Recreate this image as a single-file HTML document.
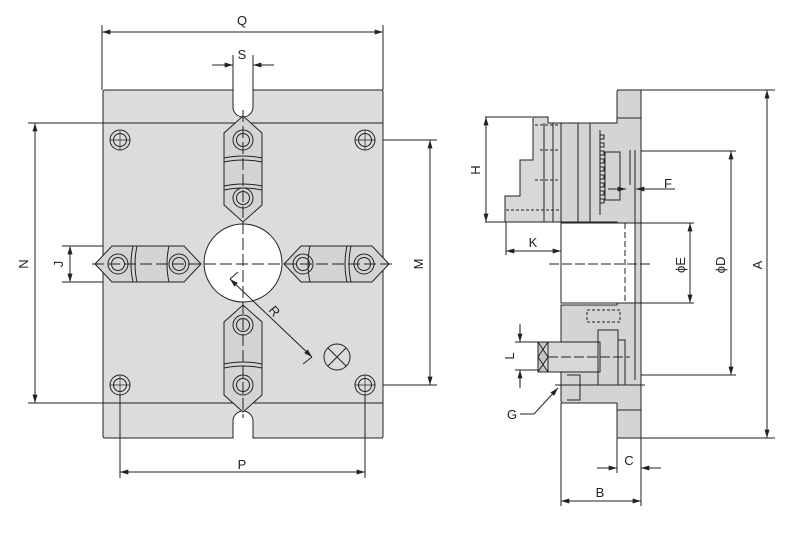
<!DOCTYPE html>
<html><head><meta charset="utf-8"><style>
html,body{margin:0;padding:0;background:#fff;}
svg{display:block;}
text{font-family:"Liberation Sans",sans-serif;font-size:13px;fill:#222;}
</style></head><body>
<svg width="803" height="545" viewBox="0 0 803 545" xmlns="http://www.w3.org/2000/svg">
<defs>
<marker id="a" viewBox="0 0 10 6" refX="10" refY="3" markerWidth="9" markerHeight="5" orient="auto-start-reverse" markerUnits="userSpaceOnUse"><path d="M0,0 L10,3 L0,6 z" fill="#222"/></marker>
</defs>
<g stroke="#222" stroke-width="1" fill="none">
<!-- LEFT PLATE -->
<path d="M105,90 H233 V107 A10,10 0 0 0 253,107 V90 H381 Q383,90 383,92 V436 Q383,438 381,438 H253 V421 A10,10 0 0 0 233,421 V438 H105 Q103,438 103,436 V92 Q103,90 105,90 Z" fill="#dcdcdc"/>
<line x1="103" y1="123" x2="383" y2="123"/>
<line x1="103" y1="403" x2="383" y2="403"/>
<circle cx="243" cy="263" r="39" fill="#fff"/>
<!-- jaws -->
<path d="M243,116 L262,133 V205 L243,222 L224,205 V133 Z" fill="#d4d4d4"/>
<path d="M243,305 L262,322 V395 L243,412 L224,395 V322 Z" fill="#d4d4d4"/>
<path d="M95,264 L112,246 H184 L201,264 L184,282 H112 Z" fill="#d4d4d4"/>
<path d="M284,264 L301,246 H372 L389,264 L372,282 H301 Z" fill="#d4d4d4"/>
<path d="M224,158 Q243,154 262,158 M224,162 Q243,158 262,162 M224,186 Q243,182 262,186 M224,190 Q243,186 262,190"/>
<path d="M224,364 Q243,360 262,364 M224,368 Q243,364 262,368"/>
<path d="M133,246 Q129,264 133,282 M137,246 Q133,264 137,282 M169,246 Q165,264 169,282"/>
<path d="M310,246 Q306,264 310,282 M347,246 Q343,264 347,282 M351,246 Q347,264 351,282"/>
<!-- holes -->
<g>
<circle cx="120" cy="140" r="10"/><circle cx="120" cy="140" r="6.5"/>
<circle cx="365" cy="140" r="10"/><circle cx="365" cy="140" r="6.5"/>
<circle cx="120" cy="385" r="10"/><circle cx="120" cy="385" r="6.5"/>
<circle cx="365" cy="385" r="10"/><circle cx="365" cy="385" r="6.5"/>
<circle cx="243" cy="140" r="10"/><circle cx="243" cy="140" r="6.5"/>
<circle cx="243" cy="198" r="10"/><circle cx="243" cy="198" r="6.5"/>
<circle cx="243" cy="325" r="10"/><circle cx="243" cy="325" r="6.5"/>
<circle cx="243" cy="385" r="10"/><circle cx="243" cy="385" r="6.5"/>
<circle cx="118" cy="264" r="10"/><circle cx="118" cy="264" r="6.5"/>
<circle cx="179" cy="264" r="10"/><circle cx="179" cy="264" r="6.5"/>
<circle cx="303" cy="264" r="10"/><circle cx="303" cy="264" r="6.5"/>
<circle cx="364" cy="264" r="10"/><circle cx="364" cy="264" r="6.5"/>
</g>
<path d="M110,140 H130 M120,130 V150 M355,140 H375 M365,130 V150 M110,385 H130 M120,375 V395 M355,385 H375 M365,375 V395" stroke-width="0.7"/>
<line x1="243" y1="110" x2="243" y2="418" stroke-dasharray="12,4"/>
<line x1="92" y1="264" x2="394" y2="264" stroke-dasharray="12,4"/>
<circle cx="337" cy="357" r="13"/>
<path d="M328,348 L346,366 M346,348 L328,366"/>
<line x1="230" y1="279" x2="312" y2="357" marker-start="url(#a)" marker-end="url(#a)"/>
<line x1="312" y1="357" x2="303" y2="364"/>
<line x1="230" y1="279" x2="238" y2="272"/>
<!-- left dims -->
<line x1="102" y1="25" x2="102" y2="90"/><line x1="383" y1="25" x2="383" y2="90"/>
<line x1="102" y1="32" x2="383" y2="32" marker-start="url(#a)" marker-end="url(#a)"/>
<line x1="233" y1="55" x2="233" y2="92"/><line x1="253" y1="55" x2="253" y2="92"/>
<line x1="212" y1="65" x2="233" y2="65" marker-end="url(#a)"/>
<line x1="274" y1="65" x2="253" y2="65" marker-end="url(#a)"/>
<line x1="28" y1="123" x2="103" y2="123"/><line x1="28" y1="403" x2="103" y2="403"/>
<line x1="35" y1="123" x2="35" y2="403" marker-start="url(#a)" marker-end="url(#a)"/>
<line x1="62" y1="246" x2="103" y2="246"/><line x1="62" y1="282" x2="103" y2="282"/>
<line x1="70" y1="246" x2="70" y2="282" marker-start="url(#a)" marker-end="url(#a)"/>
<line x1="383" y1="140" x2="437" y2="140"/><line x1="383" y1="385" x2="437" y2="385"/>
<line x1="430" y1="140" x2="430" y2="385" marker-start="url(#a)" marker-end="url(#a)"/>
<line x1="120" y1="395" x2="120" y2="478"/><line x1="365" y1="395" x2="365" y2="478"/>
<line x1="120" y1="472" x2="365" y2="472" marker-start="url(#a)" marker-end="url(#a)"/>

<!-- RIGHT VIEW -->
<path d="M619,90 H641 V438 H617 V403 H563 Q561,403 561,401 V305 H617 V222 H561 V125 Q561,123 563,123 H617 V92 Q617,90 619,90 Z" fill="#d4d4d4"/>
<rect x="561" y="223" width="74" height="80" fill="#fff"/>
<line x1="635" y1="150" x2="635" y2="380"/><line x1="641" y1="90" x2="641" y2="438"/>
<path d="M617,118 H641 M617,410 H641"/>
<path d="M533,117 H548 V123 H561 V222 H505 V196 H520 V160 H533 Z" fill="#d8d8d8"/>
<path d="M544,123 V222 M553,123 V222 M578,123 V222 M590,123 V222 M600,130 V215" />
<path d="M600,135 h4 v4 h-4 v4 h4 v4 h-4 v4 h4 v4 h-4 v4 h4 v4 h-4 v4 h4 v4 h-4 v4 h4 v4 h-4 v4 h4 v4 h-4 v4 h4 v4 h-4 v4 h4 v4 h-4"/>
<path d="M605,152 H620 V200 H605 Z M630,150 V185"/>
<path d="M506,210 H560 M535,125 H560 M540,150 H560 M535,180 H560" stroke-dasharray="3,2"/>
<path d="M625,223 V303" stroke-dasharray="6,3"/>
<path d="M587,310 H620 V322 H587 Z" stroke-dasharray="3,2"/>
<path d="M538,342 H600 V372 H538 Z" fill="#d8d8d8"/>
<path d="M538,342 H548 V372 H538 Z M538,342 L548,357 L538,372 M548,342 L538,357 L548,372" fill="#222" fill-opacity="0.1"/>
<path d="M598,330 H618 V385 H598 Z M618,340 H625 V385 M567,375 H580 V400 H567"/>
<line x1="548" y1="357" x2="630" y2="357" stroke-dasharray="10,3"/>
<line x1="549" y1="264" x2="650" y2="264" stroke-dasharray="10,3"/>
<line x1="555" y1="385" x2="645" y2="385"/>
<!-- right dims -->
<line x1="641" y1="90" x2="775" y2="90"/><line x1="641" y1="438" x2="775" y2="438"/>
<line x1="767" y1="90" x2="767" y2="438" marker-start="url(#a)" marker-end="url(#a)"/>
<line x1="641" y1="151" x2="736" y2="151"/><line x1="641" y1="375" x2="736" y2="375"/>
<line x1="731" y1="151" x2="731" y2="375" marker-start="url(#a)" marker-end="url(#a)"/>
<line x1="635" y1="223" x2="694" y2="223"/><line x1="635" y1="303" x2="694" y2="303"/>
<line x1="690" y1="223" x2="690" y2="303" marker-start="url(#a)" marker-end="url(#a)"/>
<line x1="485" y1="117" x2="532" y2="117"/><line x1="485" y1="222" x2="505" y2="222"/>
<line x1="486" y1="117" x2="486" y2="222" marker-start="url(#a)" marker-end="url(#a)"/>
<line x1="506" y1="222" x2="506" y2="255"/>
<line x1="506" y1="251" x2="561" y2="251" marker-start="url(#a)" marker-end="url(#a)"/>
<line x1="608" y1="189" x2="626" y2="189" marker-end="url(#a)"/>
<line x1="675" y1="189" x2="636" y2="189" marker-end="url(#a)"/>
<line x1="515" y1="342" x2="538" y2="342"/><line x1="515" y1="370" x2="538" y2="370"/>
<line x1="520" y1="324" x2="520" y2="342" marker-end="url(#a)"/>
<line x1="520" y1="388" x2="520" y2="370" marker-end="url(#a)"/>
<path d="M520,414 H534 L558,388" marker-end="url(#a)"/>
<line x1="561" y1="403" x2="561" y2="506"/><line x1="617" y1="438" x2="617" y2="473"/><line x1="641" y1="438" x2="641" y2="506"/>
<line x1="597" y1="468" x2="617" y2="468" marker-end="url(#a)"/>
<line x1="661" y1="468" x2="641" y2="468" marker-end="url(#a)"/>
<line x1="561" y1="501" x2="641" y2="501" marker-start="url(#a)" marker-end="url(#a)"/>
</g>
<text x="242" y="25" text-anchor="middle">Q</text>
<text x="242" y="59" text-anchor="middle">S</text>
<text x="242" y="469" text-anchor="middle">P</text>
<text transform="translate(28,264) rotate(-90)" text-anchor="middle">N</text>
<text transform="translate(63,264) rotate(-90)" text-anchor="middle">J</text>
<text transform="translate(423,264) rotate(-90)" text-anchor="middle">M</text>
<text transform="translate(271,314) rotate(50)" text-anchor="middle">R</text>
<text transform="translate(480,170) rotate(-90)" text-anchor="middle">H</text>
<text x="533" y="247" text-anchor="middle">K</text>
<text x="668" y="188" text-anchor="middle">F</text>
<text transform="translate(685,265) rotate(-90)" text-anchor="middle">ϕE</text>
<text transform="translate(725,265) rotate(-90)" text-anchor="middle">ϕD</text>
<text transform="translate(762,265) rotate(-90)" text-anchor="middle">A</text>
<text transform="translate(514,356) rotate(-90)" text-anchor="middle">L</text>
<text x="512" y="419" text-anchor="middle">G</text>
<text x="629" y="465" text-anchor="middle">C</text>
<text x="600" y="497" text-anchor="middle">B</text>
</svg>
</body></html>
